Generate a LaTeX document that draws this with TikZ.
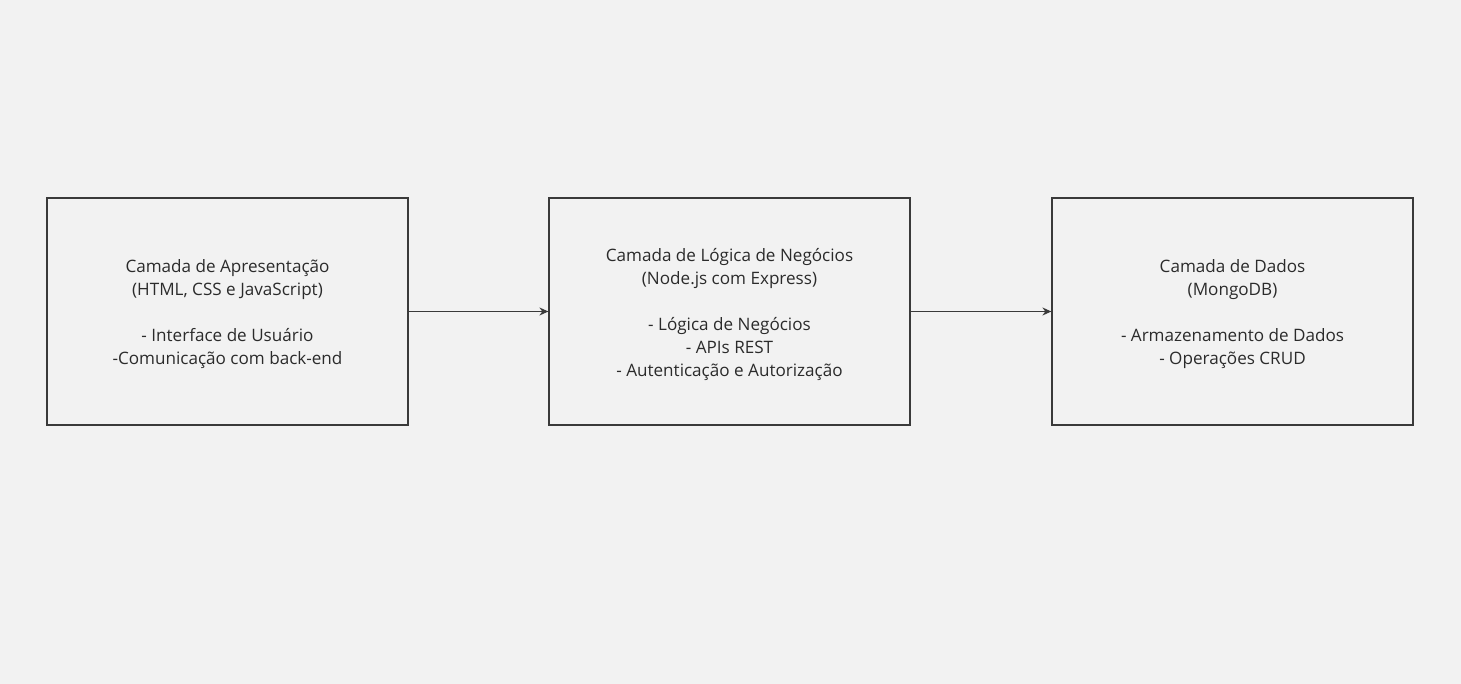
\documentclass[tikz,border=0pt]{standalone}
\usepackage{fontspec}
\setmainfont{Open Sans}
\usetikzlibrary{arrows.meta}
\definecolor{bgc}{HTML}{F2F2F2}
\definecolor{linec}{HTML}{3A3A3A}
\definecolor{textc}{HTML}{2B2B2B}
\tikzset{
  layer/.style={draw=linec, line width=1.2pt, fill=bgc, rectangle,
    minimum width=361pt, minimum height=227pt, inner sep=0pt},
  layertext/.style={align=center, text=textc, inner sep=0pt, yshift=-3pt,
    font=\fontsize{17.1pt}{23pt}\selectfont},
  conn/.style={draw=linec, line width=1.1pt, -{Stealth[length=9pt,width=8pt]}}
}
\begin{document}
\begin{tikzpicture}[x=1pt,y=-1pt]
\fill[bgc] (0,0) rectangle (1461,684);
\useasboundingbox (0,0) rectangle (1461,684);
\node[layer] (b1) at (227.5,311.5) {};
\node[layer] (b2) at (729.5,311.5) {};
\node[layer] (b3) at (1232.5,311.5) {};
\node[layertext] (t1) at (b1.center) {Camada de Apresentação\\(HTML, CSS e JavaScript)\\[23pt]- Interface de Usuário\\-Comunicação com back-end};
\node[layertext] (t2) at (b2.center) {Camada de Lógica de Negócios\\(Node.js com Express)\\[23pt]- Lógica de Negócios\\- APIs REST\\- Autenticação e Autorização};
\node[layertext] (t3) at (b3.center) {Camada de Dados\\(MongoDB)\\[23pt]- Armazenamento de Dados\\- Operações CRUD};
\draw[conn] (b1.east) -- (b2.west);
\draw[conn] (b2.east) -- (b3.west);
\end{tikzpicture}
\end{document}
